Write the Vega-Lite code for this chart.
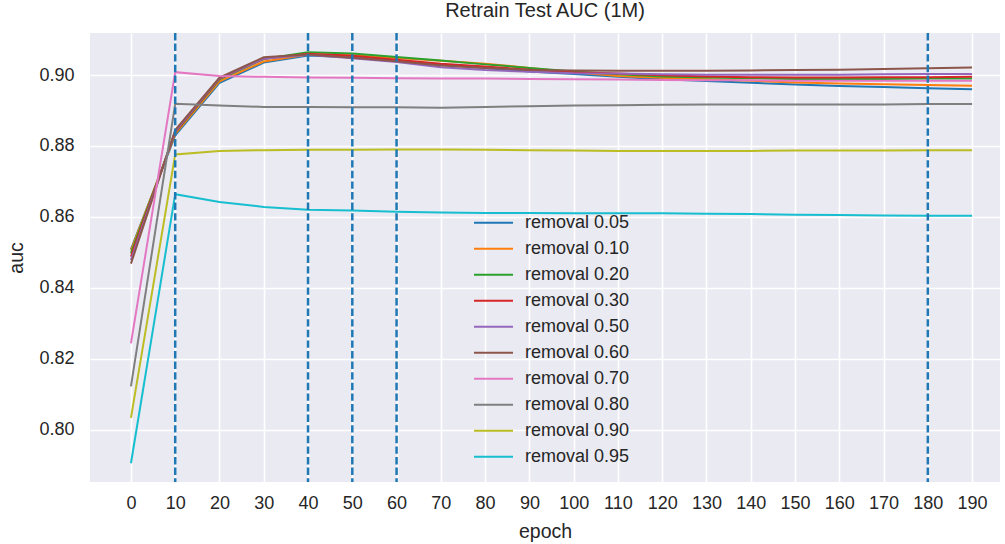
{
  "$schema": "https://vega.github.io/schema/vega-lite/v6.json",
  "width": 910,
  "height": 449,
  "autosize": {"type": "none"},
  "padding": {"left": 90, "top": 33, "right": 5, "bottom": 62},
  "background": "white",
  "title": {"text": "Retrain Test AUC (1M)", "fontSize": 20, "fontWeight": "normal", "font": "Liberation Sans", "color": "#262626", "offset": 11, "anchor": "middle"},
  "config": {
    "view": {"fill": "#EAEAF2", "stroke": null},
    "axis": {"grid": true, "gridColor": "white", "gridWidth": 1.6, "domain": false, "ticks": false,
      "labelFont": "Liberation Sans", "labelFontSize": 18, "labelColor": "#262626",
      "titleFont": "Liberation Sans", "titleFontSize": 19.5, "titleFontWeight": "normal", "titleColor": "#262626"}
  },
  "datasets": {
    "lines": [
      {"epoch":0,"series":"removal 0.05","auc":0.8508},{"epoch":10,"series":"removal 0.05","auc":0.8830},{"epoch":20,"series":"removal 0.05","auc":0.8978},{"epoch":30,"series":"removal 0.05","auc":0.9035},{"epoch":40,"series":"removal 0.05","auc":0.9055},{"epoch":50,"series":"removal 0.05","auc":0.9050},{"epoch":60,"series":"removal 0.05","auc":0.9040},{"epoch":70,"series":"removal 0.05","auc":0.9030},{"epoch":80,"series":"removal 0.05","auc":0.9020},{"epoch":90,"series":"removal 0.05","auc":0.9010},{"epoch":100,"series":"removal 0.05","auc":0.9003},{"epoch":110,"series":"removal 0.05","auc":0.8995},{"epoch":120,"series":"removal 0.05","auc":0.8988},{"epoch":130,"series":"removal 0.05","auc":0.8983},{"epoch":140,"series":"removal 0.05","auc":0.8978},{"epoch":150,"series":"removal 0.05","auc":0.8973},{"epoch":160,"series":"removal 0.05","auc":0.8969},{"epoch":170,"series":"removal 0.05","auc":0.8966},{"epoch":180,"series":"removal 0.05","auc":0.8963},{"epoch":190,"series":"removal 0.05","auc":0.8960},
      {"epoch":0,"series":"removal 0.10","auc":0.8505},{"epoch":10,"series":"removal 0.10","auc":0.8834},{"epoch":20,"series":"removal 0.10","auc":0.8982},{"epoch":30,"series":"removal 0.10","auc":0.9038},{"epoch":40,"series":"removal 0.10","auc":0.9058},{"epoch":50,"series":"removal 0.10","auc":0.9056},{"epoch":60,"series":"removal 0.10","auc":0.9048},{"epoch":70,"series":"removal 0.10","auc":0.9040},{"epoch":80,"series":"removal 0.10","auc":0.9032},{"epoch":90,"series":"removal 0.10","auc":0.9020},{"epoch":100,"series":"removal 0.10","auc":0.9008},{"epoch":110,"series":"removal 0.10","auc":0.8997},{"epoch":120,"series":"removal 0.10","auc":0.8992},{"epoch":130,"series":"removal 0.10","auc":0.8988},{"epoch":140,"series":"removal 0.10","auc":0.8984},{"epoch":150,"series":"removal 0.10","auc":0.8979},{"epoch":160,"series":"removal 0.10","auc":0.8976},{"epoch":170,"series":"removal 0.10","auc":0.8974},{"epoch":180,"series":"removal 0.10","auc":0.8972},{"epoch":190,"series":"removal 0.10","auc":0.8970},
      {"epoch":0,"series":"removal 0.20","auc":0.8497},{"epoch":10,"series":"removal 0.20","auc":0.8838},{"epoch":20,"series":"removal 0.20","auc":0.8988},{"epoch":30,"series":"removal 0.20","auc":0.9045},{"epoch":40,"series":"removal 0.20","auc":0.9064},{"epoch":50,"series":"removal 0.20","auc":0.9061},{"epoch":60,"series":"removal 0.20","auc":0.9051},{"epoch":70,"series":"removal 0.20","auc":0.9041},{"epoch":80,"series":"removal 0.20","auc":0.9030},{"epoch":90,"series":"removal 0.20","auc":0.9020},{"epoch":100,"series":"removal 0.20","auc":0.9010},{"epoch":110,"series":"removal 0.20","auc":0.9002},{"epoch":120,"series":"removal 0.20","auc":0.8996},{"epoch":130,"series":"removal 0.20","auc":0.8993},{"epoch":140,"series":"removal 0.20","auc":0.8991},{"epoch":150,"series":"removal 0.20","auc":0.8989},{"epoch":160,"series":"removal 0.20","auc":0.8989},{"epoch":170,"series":"removal 0.20","auc":0.8989},{"epoch":180,"series":"removal 0.20","auc":0.8990},{"epoch":190,"series":"removal 0.20","auc":0.8990},
      {"epoch":0,"series":"removal 0.30","auc":0.8488},{"epoch":10,"series":"removal 0.30","auc":0.8840},{"epoch":20,"series":"removal 0.30","auc":0.8990},{"epoch":30,"series":"removal 0.30","auc":0.9046},{"epoch":40,"series":"removal 0.30","auc":0.9060},{"epoch":50,"series":"removal 0.30","auc":0.9054},{"epoch":60,"series":"removal 0.30","auc":0.9043},{"epoch":70,"series":"removal 0.30","auc":0.9032},{"epoch":80,"series":"removal 0.30","auc":0.9024},{"epoch":90,"series":"removal 0.30","auc":0.9015},{"epoch":100,"series":"removal 0.30","auc":0.9008},{"epoch":110,"series":"removal 0.30","auc":0.9004},{"epoch":120,"series":"removal 0.30","auc":0.8999},{"epoch":130,"series":"removal 0.30","auc":0.8996},{"epoch":140,"series":"removal 0.30","auc":0.8994},{"epoch":150,"series":"removal 0.30","auc":0.8993},{"epoch":160,"series":"removal 0.30","auc":0.8993},{"epoch":170,"series":"removal 0.30","auc":0.8994},{"epoch":180,"series":"removal 0.30","auc":0.8994},{"epoch":190,"series":"removal 0.30","auc":0.8995},
      {"epoch":0,"series":"removal 0.50","auc":0.8478},{"epoch":10,"series":"removal 0.50","auc":0.8842},{"epoch":20,"series":"removal 0.50","auc":0.8991},{"epoch":30,"series":"removal 0.50","auc":0.9046},{"epoch":40,"series":"removal 0.50","auc":0.9057},{"epoch":50,"series":"removal 0.50","auc":0.9047},{"epoch":60,"series":"removal 0.50","auc":0.9037},{"epoch":70,"series":"removal 0.50","auc":0.9022},{"epoch":80,"series":"removal 0.50","auc":0.9014},{"epoch":90,"series":"removal 0.50","auc":0.9009},{"epoch":100,"series":"removal 0.50","auc":0.9005},{"epoch":110,"series":"removal 0.50","auc":0.9004},{"epoch":120,"series":"removal 0.50","auc":0.9002},{"epoch":130,"series":"removal 0.50","auc":0.9001},{"epoch":140,"series":"removal 0.50","auc":0.9001},{"epoch":150,"series":"removal 0.50","auc":0.9001},{"epoch":160,"series":"removal 0.50","auc":0.9001},{"epoch":170,"series":"removal 0.50","auc":0.9002},{"epoch":180,"series":"removal 0.50","auc":0.9003},{"epoch":190,"series":"removal 0.50","auc":0.9003},
      {"epoch":0,"series":"removal 0.60","auc":0.8468},{"epoch":10,"series":"removal 0.60","auc":0.8845},{"epoch":20,"series":"removal 0.60","auc":0.8993},{"epoch":30,"series":"removal 0.60","auc":0.9050},{"epoch":40,"series":"removal 0.60","auc":0.9058},{"epoch":50,"series":"removal 0.60","auc":0.9049},{"epoch":60,"series":"removal 0.60","auc":0.9039},{"epoch":70,"series":"removal 0.60","auc":0.9027},{"epoch":80,"series":"removal 0.60","auc":0.9020},{"epoch":90,"series":"removal 0.60","auc":0.9014},{"epoch":100,"series":"removal 0.60","auc":0.9013},{"epoch":110,"series":"removal 0.60","auc":0.9012},{"epoch":120,"series":"removal 0.60","auc":0.9012},{"epoch":130,"series":"removal 0.60","auc":0.9012},{"epoch":140,"series":"removal 0.60","auc":0.9013},{"epoch":150,"series":"removal 0.60","auc":0.9014},{"epoch":160,"series":"removal 0.60","auc":0.9015},{"epoch":170,"series":"removal 0.60","auc":0.9017},{"epoch":180,"series":"removal 0.60","auc":0.9019},{"epoch":190,"series":"removal 0.60","auc":0.9021},
      {"epoch":0,"series":"removal 0.70","auc":0.8243},{"epoch":10,"series":"removal 0.70","auc":0.9008},{"epoch":20,"series":"removal 0.70","auc":0.8997},{"epoch":30,"series":"removal 0.70","auc":0.8995},{"epoch":40,"series":"removal 0.70","auc":0.8993},{"epoch":50,"series":"removal 0.70","auc":0.8992},{"epoch":60,"series":"removal 0.70","auc":0.8991},{"epoch":70,"series":"removal 0.70","auc":0.8990},{"epoch":80,"series":"removal 0.70","auc":0.8990},{"epoch":90,"series":"removal 0.70","auc":0.8989},{"epoch":100,"series":"removal 0.70","auc":0.8988},{"epoch":110,"series":"removal 0.70","auc":0.8987},{"epoch":120,"series":"removal 0.70","auc":0.8986},{"epoch":130,"series":"removal 0.70","auc":0.8985},{"epoch":140,"series":"removal 0.70","auc":0.8985},{"epoch":150,"series":"removal 0.70","auc":0.8984},{"epoch":160,"series":"removal 0.70","auc":0.8984},{"epoch":170,"series":"removal 0.70","auc":0.8984},{"epoch":180,"series":"removal 0.70","auc":0.8984},{"epoch":190,"series":"removal 0.70","auc":0.8984},
      {"epoch":0,"series":"removal 0.80","auc":0.8122},{"epoch":10,"series":"removal 0.80","auc":0.8919},{"epoch":20,"series":"removal 0.80","auc":0.8914},{"epoch":30,"series":"removal 0.80","auc":0.8910},{"epoch":40,"series":"removal 0.80","auc":0.8910},{"epoch":50,"series":"removal 0.80","auc":0.8909},{"epoch":60,"series":"removal 0.80","auc":0.8909},{"epoch":70,"series":"removal 0.80","auc":0.8908},{"epoch":80,"series":"removal 0.80","auc":0.8910},{"epoch":90,"series":"removal 0.80","auc":0.8912},{"epoch":100,"series":"removal 0.80","auc":0.8914},{"epoch":110,"series":"removal 0.80","auc":0.8915},{"epoch":120,"series":"removal 0.80","auc":0.8916},{"epoch":130,"series":"removal 0.80","auc":0.8917},{"epoch":140,"series":"removal 0.80","auc":0.8917},{"epoch":150,"series":"removal 0.80","auc":0.8917},{"epoch":160,"series":"removal 0.80","auc":0.8917},{"epoch":170,"series":"removal 0.80","auc":0.8917},{"epoch":180,"series":"removal 0.80","auc":0.8918},{"epoch":190,"series":"removal 0.80","auc":0.8918},
      {"epoch":0,"series":"removal 0.90","auc":0.8033},{"epoch":10,"series":"removal 0.90","auc":0.8776},{"epoch":20,"series":"removal 0.90","auc":0.8786},{"epoch":30,"series":"removal 0.90","auc":0.8788},{"epoch":40,"series":"removal 0.90","auc":0.8789},{"epoch":50,"series":"removal 0.90","auc":0.8789},{"epoch":60,"series":"removal 0.90","auc":0.8790},{"epoch":70,"series":"removal 0.90","auc":0.8790},{"epoch":80,"series":"removal 0.90","auc":0.8789},{"epoch":90,"series":"removal 0.90","auc":0.8788},{"epoch":100,"series":"removal 0.90","auc":0.8787},{"epoch":110,"series":"removal 0.90","auc":0.8786},{"epoch":120,"series":"removal 0.90","auc":0.8786},{"epoch":130,"series":"removal 0.90","auc":0.8786},{"epoch":140,"series":"removal 0.90","auc":0.8786},{"epoch":150,"series":"removal 0.90","auc":0.8787},{"epoch":160,"series":"removal 0.90","auc":0.8787},{"epoch":170,"series":"removal 0.90","auc":0.8787},{"epoch":180,"series":"removal 0.90","auc":0.8788},{"epoch":190,"series":"removal 0.90","auc":0.8788},
      {"epoch":0,"series":"removal 0.95","auc":0.7905},{"epoch":10,"series":"removal 0.95","auc":0.8664},{"epoch":20,"series":"removal 0.95","auc":0.8642},{"epoch":30,"series":"removal 0.95","auc":0.8628},{"epoch":40,"series":"removal 0.95","auc":0.8620},{"epoch":50,"series":"removal 0.95","auc":0.8618},{"epoch":60,"series":"removal 0.95","auc":0.8614},{"epoch":70,"series":"removal 0.95","auc":0.8612},{"epoch":80,"series":"removal 0.95","auc":0.8611},{"epoch":90,"series":"removal 0.95","auc":0.8611},{"epoch":100,"series":"removal 0.95","auc":0.8610},{"epoch":110,"series":"removal 0.95","auc":0.8610},{"epoch":120,"series":"removal 0.95","auc":0.8610},{"epoch":130,"series":"removal 0.95","auc":0.8609},{"epoch":140,"series":"removal 0.95","auc":0.8608},{"epoch":150,"series":"removal 0.95","auc":0.8606},{"epoch":160,"series":"removal 0.95","auc":0.8605},{"epoch":170,"series":"removal 0.95","auc":0.8604},{"epoch":180,"series":"removal 0.95","auc":0.8603},{"epoch":190,"series":"removal 0.95","auc":0.8603}
    ],
    "marks": [{"epoch": 10}, {"epoch": 40}, {"epoch": 50}, {"epoch": 60}, {"epoch": 180}]
  },
  "layer": [
    {
      "data": {"name": "lines"},
      "mark": {"type": "line", "strokeWidth": 2},
      "encoding": {
        "x": {"field": "epoch", "type": "quantitative", "title": "epoch",
          "scale": {"domain": [-9.25, 196.3], "nice": false, "zero": false},
          "axis": {"values": [0,10,20,30,40,50,60,70,80,90,100,110,120,130,140,150,160,170,180,190], "labelPadding": 12, "titlePadding": 10}},
        "y": {"field": "auc", "type": "quantitative", "title": "auc",
          "scale": {"domain": [0.78521, 0.91185], "nice": false, "zero": false},
          "axis": {"values": [0.80, 0.82, 0.84, 0.86, 0.88, 0.90], "format": ".2f", "labelPadding": 16, "titlePadding": 12}},
        "color": {"field": "series", "type": "nominal",
          "scale": {"domain": ["removal 0.05","removal 0.10","removal 0.20","removal 0.30","removal 0.50","removal 0.60","removal 0.70","removal 0.80","removal 0.90","removal 0.95"],
            "range": ["#1f77b4","#ff7f0e","#2ca02c","#d62728","#9467bd","#8c564b","#e377c2","#7f7f7f","#bcbd22","#17becf"]},
          "legend": {"title": null, "orient": "none", "legendX": 383, "legendY": 177, "symbolType": "stroke", "symbolSize": 1521, "symbolStrokeWidth": 2,
            "clipHeight": 25.3, "rowPadding": 0, "padding": 0, "offset": 0, "labelOffset": 11, "labelFont": "Liberation Sans", "labelFontSize": 18, "labelColor": "#262626", "labelLimit": 300}}
      }
    },
    {
      "data": {"name": "marks"},
      "mark": {"type": "rule", "color": "#1f77b4", "strokeWidth": 2.5, "strokeDash": [7.4, 3.2]},
      "encoding": {"x": {"field": "epoch", "type": "quantitative"}}
    }
  ]
}
